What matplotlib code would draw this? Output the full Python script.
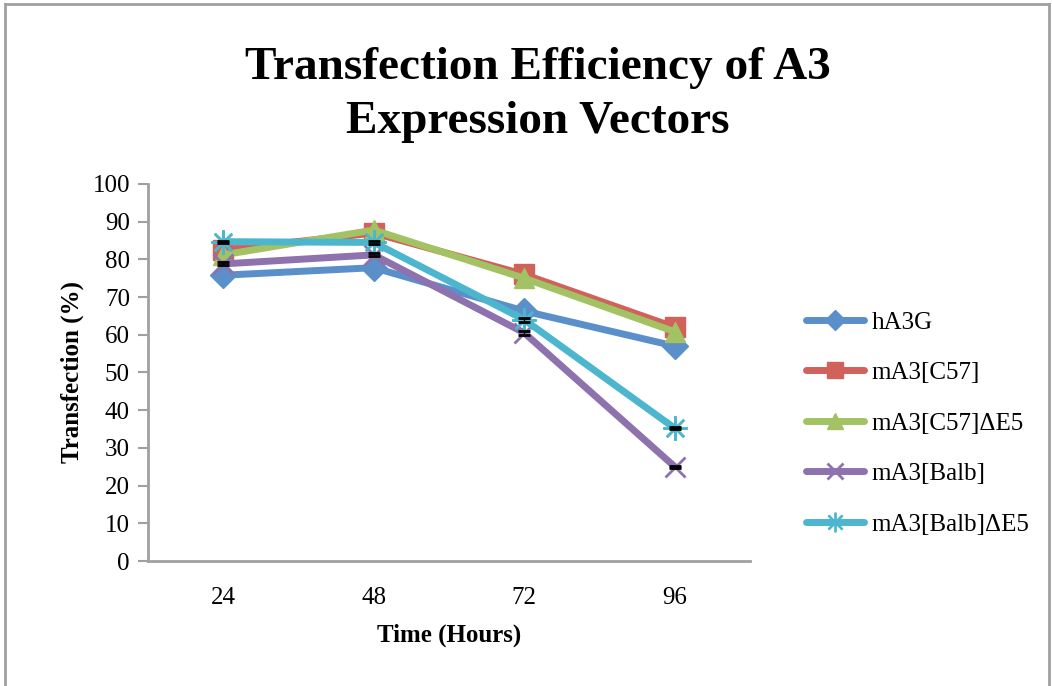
import matplotlib.pyplot as plt
from matplotlib.lines import Line2D

plt.rcParams['font.family'] = ['Liberation Serif', 'DejaVu Serif']

hours = ['24', '48', '72', '96']
ha3g = [75.8, 77.8, 66.3, 57.0]
c57 = [82.5, 87.0, 76.0, 62.0]
c57_de5 = [81.2, 87.8, 75.0, 60.8]
balb = [78.8, 81.2, 60.5, 25.0]
balb_de5 = [84.7, 84.5, 64.0, 35.2]
balb_err = [0.4, 0.4, 0.5, 0.3]
balb_de5_err = [0.3, 0.4, 0.5, 0.3]

series = [
    ('hA3G', ha3g, '#5B8FCA', 'D', 13),
    ('mA3[C57]', c57, '#D0615B', 's', 15),
    ('mA3[C57]\u0394E5', c57_de5, '#A3C264', '^', 15),
    ('mA3[Balb]', balb, '#8D72AE', 'x', 14),
    ('mA3[Balb]\u0394E5', balb_de5, '#4DB6CF', '$\u2733$', 17),
]

fig = plt.figure(figsize=(10.52, 6.86), dpi=100)
ax = fig.add_axes([0.1407, 0.1822, 0.5723, 0.5496])

x = list(range(len(hours)))
for name, vals, color, marker, ms in series:
    mew = 2 if marker == 'x' else 1
    ax.plot(x, vals, color=color, lw=5, marker=marker, ms=ms,
            mec=color, mfc=color, mew=mew, label=name, zorder=2,
            solid_capstyle='round')

# tiny error bars on the Balb lines
ax.errorbar(x, balb, yerr=balb_err, fmt='none', ecolor='black',
            elinewidth=1, capsize=4, capthick=2, zorder=3)
ax.errorbar(x, balb_de5, yerr=balb_de5_err, fmt='none', ecolor='black',
            elinewidth=1, capsize=4, capthick=2, zorder=3)

ax.set_xlim(-0.5, 3.5)
ax.set_ylim(0, 100)
ax.set_yticks(range(0, 101, 10))
ax.set_xticks(x)
ax.set_xticklabels(hours)
ax.tick_params(axis='y', length=7, width=1.5, color='#A0A0A0',
               labelsize=18, pad=6)
ax.tick_params(axis='x', length=0, labelsize=18, pad=19)
for s in ['top', 'right']:
    ax.spines[s].set_visible(False)
for s in ['left', 'bottom']:
    ax.spines[s].set_color('#A0A0A0')
    ax.spines[s].set_linewidth(2)

ax.set_xlabel('Time (Hours)', fontsize=18, fontweight='bold', labelpad=10)
ax.set_ylabel('Transfection (%)', fontsize=18, fontweight='bold', labelpad=6)

fig.text(0.511, 0.862, 'Transfection Efficiency of A3\nExpression Vectors',
         ha='center', va='center', fontsize=34, fontweight='bold',
         linespacing=1.38)

handles, labels = ax.get_legend_handles_labels()
fig.legend(handles, labels, loc='center left', bbox_to_anchor=(0.745, 0.383),
           frameon=False, fontsize=18, handlelength=2.3, numpoints=1,
           labelspacing=1.12, handletextpad=0.3, markerscale=0.8)

# outer chart border
border = dict(color='#A0A0A0', lw=2, transform=fig.transFigure)
fig.add_artist(Line2D([0.005, 0.005], [0, 0.994], **border))
fig.add_artist(Line2D([0.005, 0.997], [0.994, 0.994], **border))
fig.add_artist(Line2D([0.997, 0.997], [0, 0.994], **border))

fig.savefig('out.png', dpi=100)
